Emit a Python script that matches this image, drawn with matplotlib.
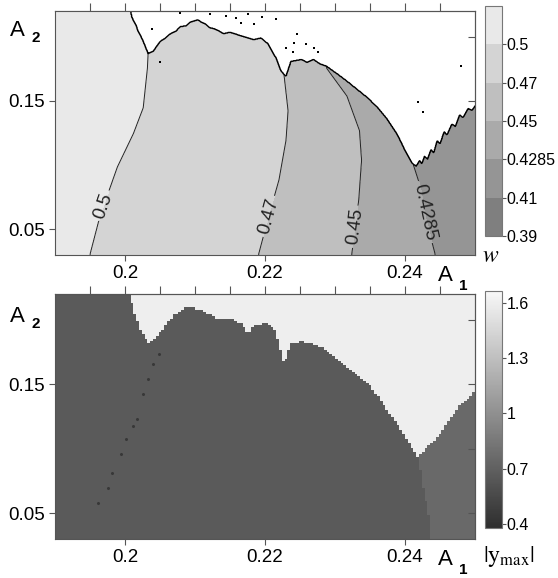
import numpy as np
import matplotlib
matplotlib.use("Agg")
import matplotlib.pyplot as plt
from matplotlib.colors import LinearSegmentedColormap

plt.rcParams["font.family"] = ["Liberation Sans", "DejaVu Sans"]
plt.rcParams["mathtext.fontset"] = "stix"

X_RANGE = (0.19, 0.25)
Y_RANGE = (0.03, 0.22)

# ---- top panel: w, contour lines (A1, A2) ----
W_LEVELS = [0.39, 0.41, 0.4285, 0.45, 0.47, 0.5, 0.53]
W_TICKS = [0.39, 0.41, 0.4285, 0.45, 0.47, 0.5]
W_TICKLABELS = ["0.39", "0.41", "0.4285", "0.45", "0.47", "0.5"]
W_COLORS = ["#7f7f7f", "#959595", "#aaaaaa", "#bfbfbf", "#d4d4d4", "#e9e9e9"]
W_LEFT_EDGE = 0.52
W_RIGHT_EDGE = 0.415

C050_X = [0.1950, 0.1964, 0.1989, 0.2012, 0.2026, 0.2029, 0.2032, 0.2033]
C050_Y = [0.0308, 0.0600, 0.0985, 0.1246, 0.1446, 0.1600, 0.1754, 0.1869]
C047_X = [0.2191, 0.2206, 0.2220, 0.2230, 0.2233, 0.2227]
C047_Y = [0.0308, 0.0615, 0.0885, 0.1192, 0.1423, 0.1715]
C045_X = [0.2324, 0.2334, 0.2338, 0.2335, 0.2317, 0.2288]
C045_Y = [0.0308, 0.0731, 0.1038, 0.1269, 0.1538, 0.1754]
C043_X = [0.2443, 0.2429, 0.2422, 0.2412]
C043_Y = [0.0308, 0.0600, 0.0831, 0.1000]

# lower edge of the white (no data) area
EDGE_X = [0.2007, 0.2010, 0.2013, 0.2016, 0.2019, 0.2022, 0.2025, 0.2029,
          0.2033, 0.2040, 0.2046, 0.2050, 0.2058, 0.2065, 0.2072, 0.2079,
          0.2087, 0.2094, 0.2104, 0.2110, 0.2115, 0.2121, 0.2127, 0.2134,
          0.2141, 0.2150, 0.2161, 0.2170, 0.2184, 0.2194, 0.2204, 0.2216,
          0.2223, 0.2230, 0.2237, 0.2245, 0.2252, 0.2260, 0.2269, 0.2278,
          0.2288, 0.2302, 0.2317, 0.2331, 0.2345, 0.2360, 0.2374, 0.2389,
          0.2400, 0.2410, 0.2416, 0.2421, 0.2424, 0.2428, 0.2432, 0.2437,
          0.2441, 0.2446, 0.2450, 0.2456, 0.2460, 0.2467, 0.2472, 0.2478,
          0.2483, 0.2490, 0.2496, 0.2504]
EDGE_Y = [0.2220, 0.2150, 0.2115, 0.2085, 0.2038, 0.2010, 0.1977, 0.1923,
          0.1869, 0.1885, 0.1930, 0.1962, 0.1990, 0.2023, 0.2040, 0.2077,
          0.2085, 0.2115, 0.2131, 0.2110, 0.2100, 0.2070, 0.2062, 0.2045,
          0.2023, 0.2035, 0.2015, 0.2000, 0.1977, 0.1990, 0.1946, 0.1831,
          0.1731, 0.1692, 0.1808, 0.1815, 0.1823, 0.1800, 0.1823, 0.1790,
          0.1769, 0.1715, 0.1654, 0.1592, 0.1531, 0.1454, 0.1362, 0.1238,
          0.1115, 0.1015, 0.0992, 0.1035, 0.1010, 0.1070, 0.1045, 0.1120,
          0.1095, 0.1190, 0.1165, 0.1260, 0.1235, 0.1320, 0.1300, 0.1390,
          0.1370, 0.1440, 0.1425, 0.1500]

SPECK_X = [0.2038, 0.2050, 0.2078, 0.2122, 0.2144, 0.2158, 0.2175, 0.2165,
           0.2184, 0.2216, 0.2245, 0.2242, 0.2259, 0.2230, 0.2240, 0.2270,
           0.2275, 0.2419, 0.2480, 0.2426, 0.2195]
SPECK_Y = [0.2062, 0.1800, 0.2185, 0.2177, 0.2162, 0.2146, 0.2177, 0.2108,
           0.2100, 0.2139, 0.2023, 0.1954, 0.1946, 0.1915, 0.1877, 0.1915,
           0.1877, 0.1492, 0.1769, 0.1415, 0.2150]

W_LABEL_POS = [(0.1964, 0.069), (0.2197, 0.0615), (0.2325, 0.0523), (0.2432, 0.0638)]

# ---- bottom panel: |y_max| ----
Y_LOW, Y_RIGHT, Y_HIGH = 0.66, 0.76, 1.60
YM_TICKS = [0.4, 0.7, 1.0, 1.3, 1.6]
YM_TICKLABELS = ["0.4", "0.7", "1", "1.3", "1.6"]
YM_RANGE = (0.378, 1.665)

HIGH_X = [0.2004, 0.2012, 0.2022, 0.2032, 0.2040, 0.2050, 0.2069, 0.2089,
          0.2108, 0.2132, 0.2155, 0.2166, 0.2176, 0.2184, 0.2204, 0.2216,
          0.2227, 0.2237, 0.2252, 0.2266, 0.2291, 0.2319, 0.2353, 0.2386,
          0.2420, 0.2449, 0.2478, 0.2504]
HIGH_Y = [0.2220, 0.2069, 0.1915, 0.1823, 0.1854, 0.1915, 0.2046, 0.2108,
          0.2085, 0.2015, 0.2008, 0.1977, 0.1892, 0.1969, 0.1977, 0.1915,
          0.1662, 0.1815, 0.1838, 0.1823, 0.1762, 0.1631, 0.1477, 0.1223,
          0.0938, 0.1092, 0.1323, 0.1454]
RIGHT_X = [0.2439, 0.2435, 0.2427, 0.2420]
RIGHT_Y = [0.0308, 0.0508, 0.0708, 0.0938]

DOT_X = [0.1962, 0.1975, 0.1982, 0.1994, 0.2001, 0.2012, 0.2017, 0.2025,
         0.2033, 0.2040, 0.2048]
DOT_Y = [0.0577, 0.0692, 0.0808, 0.0962, 0.1077, 0.1177, 0.1231, 0.1423,
         0.1538, 0.1654, 0.1731]


def w_field(xg, yg):
    lines = [(C050_X, C050_Y), (C047_X, C047_Y), (C045_X, C045_Y), (C043_X, C043_Y)]
    vals = [W_LEFT_EDGE, 0.5, 0.47, 0.45, 0.4285, W_RIGHT_EDGE]
    w = np.empty((len(yg), len(xg)))
    for i, y in enumerate(yg):
        knots = [X_RANGE[0]] + [np.interp(y, ly, lx) for lx, ly in lines] + [X_RANGE[1]]
        w[i] = np.interp(xg, knots, vals)
    xx, yy = np.meshgrid(xg, yg)
    blank = yy > np.interp(xx, EDGE_X, EDGE_Y)
    return xx, yy, np.ma.masked_where(blank, w), blank


def ymax_field(xg, yg):
    xx, yy = np.meshgrid(xg, yg)
    f = np.full(xx.shape, Y_LOW)
    f[xx > np.interp(yy, RIGHT_Y, RIGHT_X)] = Y_RIGHT
    f[yy > np.interp(xx, HIGH_X, HIGH_Y)] = Y_HIGH
    return f


def style_axes(ax):
    ax.set_xlim(*X_RANGE)
    ax.set_ylim(*Y_RANGE)
    ax.set_xticks([0.2, 0.22, 0.24], ["0.2", "0.22", "0.24"])
    ax.set_yticks([0.05, 0.15], ["0.05", "0.15"])
    ax.tick_params(direction="out", length=4, width=0.8, color="#555555",
                   labelsize=13.5, pad=3)
    for s in ax.spines.values():
        s.set_color("#555555")
        s.set_linewidth(0.8)
    top = ax.secondary_xaxis("top")
    top.set_xticks(np.arange(0.195, 0.2451, 0.005), [])
    top.tick_params(direction="out", length=6, width=0.8, color="#555555")
    top.spines["top"].set_color("#555555")
    right = ax.secondary_yaxis("right")
    right.set_yticks([0.05, 0.1, 0.15, 0.2], [])
    right.tick_params(direction="in", length=5, width=0.8, color="#555555")
    right.spines["right"].set_color("#555555")


def style_cbar(cb, labels):
    cb.ax.set_yticklabels(labels)
    cb.ax.tick_params(direction="out", length=3, width=0.8, color="#555555",
                      labelsize=11.5, pad=0.5)
    cb.outline.set_edgecolor("#777777")
    cb.outline.set_linewidth(0.8)


def axis_names(fig, y_a2, y_a1):
    fig.text(10 / 558, 1 - y_a2 / 578, "A", fontsize=16, va="baseline")
    fig.text(32 / 558, 1 - (y_a2 + 6) / 578, "2", fontsize=11, weight="bold", va="baseline")
    fig.text(438 / 558, 1 - y_a1 / 578, "A", fontsize=16, va="baseline")
    fig.text(459 / 558, 1 - (y_a1 + 9) / 578, "1", fontsize=11, weight="bold", va="baseline")


fig = plt.figure(figsize=(5.58, 5.78), dpi=100)
ax0 = fig.add_axes([55 / 558, 1 - 255 / 578, 420 / 558, 244 / 578])
ax1 = fig.add_axes([55 / 558, 1 - 539 / 578, 420 / 558, 245 / 578])
cax0 = fig.add_axes([485 / 558, 1 - 236 / 578, 17 / 558, 230 / 578])
cax1 = fig.add_axes([485 / 558, 1 - 528 / 578, 17 / 558, 237 / 578])

# top panel
xg = np.linspace(*X_RANGE, 700)
yg = np.linspace(*Y_RANGE, 450)
xx, yy, w, blank = w_field(xg, yg)
cf = ax0.contourf(xx, yy, w, levels=W_LEVELS, colors=W_COLORS)
cs = ax0.contour(xx, yy, w, levels=[0.4285, 0.45, 0.47, 0.5], colors="#222222",
                 linewidths=0.7)
ax0.clabel(cs, manual=W_LABEL_POS, fontsize=13.5, inline=True, inline_spacing=3,
           fmt={0.4285: "0.4285", 0.45: "0.45", 0.47: "0.47", 0.5: "0.5"})
ax0.contour(xx, yy, blank.astype(float), levels=[0.5], colors="black", linewidths=1.0)
ax0.plot(SPECK_X, SPECK_Y, "s", color="black", ms=1.6, mew=0)
style_axes(ax0)

cb0 = fig.colorbar(cf, cax=cax0, ticks=W_TICKS)
cb0.ax.set_ylim(0.39, 0.53)
style_cbar(cb0, W_TICKLABELS)
fig.text(491 / 558, 1 - 262 / 578, r"$w$", fontsize=17, ha="center", va="baseline")

# bottom panel
cmap = LinearSegmentedColormap.from_list("ym", ["#2e2e2e", "#f8f8f8"])
xb = np.linspace(*X_RANGE, 150)
yb = np.linspace(*Y_RANGE, 110)
im = ax1.imshow(ymax_field(xb, yb), extent=[*X_RANGE, *Y_RANGE], origin="lower",
                aspect="auto", interpolation="nearest", cmap=cmap,
                vmin=YM_RANGE[0], vmax=YM_RANGE[1])
ax1.plot(DOT_X, DOT_Y, "o", color="#303030", ms=2.2, mew=0, alpha=0.8)
style_axes(ax1)

cb1 = fig.colorbar(im, cax=cax1, ticks=YM_TICKS)
style_cbar(cb1, YM_TICKLABELS)
fig.text(509 / 558, 1 - 562 / 578, r"$|\mathrm{y}_{\mathrm{max}}|$", fontsize=17,
         ha="center", va="baseline")

axis_names(fig, 36, 281)
axis_names(fig, 322, 565)

fig.savefig("out.png", dpi=100)
